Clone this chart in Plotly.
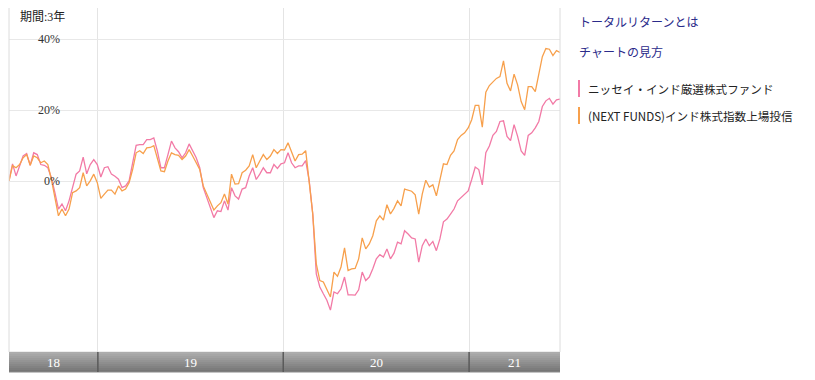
import plotly.graph_objects as go
import pandas as pd

# ---------------- data ----------------
period_label = "期間:3年"
link_labels = ["トータルリターンとは", "チャートの見方"]
fund_a_name = "ニッセイ・インド厳選株式ファンド"
fund_b_name = "(NEXT FUNDS)インド株式指数上場投信"

start_date = "2018-07-10"
end_date = "2021-06-29"
year_starts = ["2019-01-01", "2020-01-01", "2021-01-01"]
year_labels = ["18", "19", "20", "21"]
y_ticks = [0, 20, 40]
y_tick_labels = ["0%", "20%", "40%"]

fund_a = [
    0.3, 5.1, 1.7, 4.5, 7.3, 8.0, 4.7, 8.2, 7.7, 4.9, 4.7, 4.0, 1.2, -3.0, -7.6, -6.2,
    -8.1, -5.3, -1.1, 2.2, 3.1, 7.0, 2.3, 4.9, 6.3, 4.9, 1.4, 4.0, 4.3, 2.2, 1.6, 0.8,
    -1.6, -1.1, 0.3, 5.9, 10.3,
    10.5, 10.5, 11.9, 11.9, 12.4, 8.7, 4.0, 4.0, 7.7, 11.5, 9.6, 8.5, 6.8, 8.2, 10.7, 8.7,
    6.8, 4.0, -1.6, -4.4, -7.2, -10.0, -8.1, -8.3, -5.3, -7.9, -1.6, -3.9, -4.8, -2.0, -1.6,
    1.7, 4.0, 0.7, 2.2, 4.0, 2.6, 2.6, 4.9, 3.8, 5.1,
    5.4, 8.2, 5.4, 4.0, 4.5, 4.5, 6.0, 0.3, -9.0, -25.8, -29.5, -31.4, -33.2, -36.0, -30.9,
    -31.4, -30.0, -26.7, -31.7, -31.7, -31.8, -30.3, -25.3, -27.7, -26.7, -24.4, -21.6, -20.4,
    -21.1, -18.8, -21.6, -20.0, -16.9, -17.4, -13.7, -14.6, -15.7, -16.0, -22.5,
    -17.9, -16.0, -17.9, -16.7, -19.3, -16.0, -11.2, -10.4, -9.0, -7.6, -5.3, -4.4, -3.6, -2.5,
    0.7, 4.2, 3.5, -0.8, 8.2, 10.1, 13.1, 14.2, 17.0, 17.2, 12.8, 11.6, 16.1, 12.8, 8.7, 7.5,
    13.1, 13.8, 15.2, 17.0, 21.2, 22.8, 23.5, 21.9, 23.1, 23.3,
]

fund_b = [
    0.3, 4.6, 4.0, 4.9, 6.8, 7.7, 4.7, 7.3, 6.8, 5.4, 5.9, 4.9, 0.7, -4.4, -9.5, -7.6,
    -9.5, -7.6, -3.0, -2.5, -1.6, 2.6, -1.1, 0.3, 2.2, -0.2, -4.6, -3.4, -2.3, -2.3, -3.4, -1.1,
    -2.5, -2.0, -0.2, 3.5, 8.2,
    8.8, 8.0, 9.6, 9.7, 10.2, 6.8, 3.1, 2.9, 5.9, 8.2, 7.7, 7.5, 6.3, 7.3, 9.1, 7.3,
    5.4, 3.5, -1.1, -3.4, -5.8, -7.9, -6.7, -5.8, -3.4, -6.2, 2.2, -0.6, -0.5, 2.6, 3.3,
    4.5, 7.7, 4.0, 5.9, 7.7, 6.3, 7.3, 9.1, 8.0, 9.1,
    9.0, 11.0, 8.2, 5.9, 7.7, 7.8, 8.8, 0.7, -9.0, -23.0, -27.7, -28.1, -30.0, -32.3, -25.3,
    -26.5, -23.9, -18.5, -24.9, -24.4, -24.3, -21.6, -15.7, -18.8, -17.4, -15.1, -10.9, -9.5,
    -10.7, -6.4, -9.0, -7.4, -5.3, -6.7, -2.0, -2.3, -2.6, -3.6, -9.0,
    -3.4, 0.5, -1.4, -0.8, -3.9, 0.5, 5.1, 4.9, 7.5, 8.7, 11.9, 13.1, 13.8, 15.2,
    17.5, 21.5, 21.5, 15.4, 25.2, 27.1, 28.0, 29.1, 29.6, 34.0, 27.7, 25.6, 30.3, 27.3, 22.6, 20.3,
    26.8, 26.8, 25.4, 30.1, 35.2, 37.5, 37.3, 35.5, 36.9, 36.4,
]

# ---------------- styles ----------------
PAGE_OFF = 8          # default body margin of the html page
W, H = 815 - PAGE_OFF, 380 - PAGE_OFF
PINK = "#f27aa6"
ORANGE = "#f7a04c"
LINK = "#2b2b8a"
SERIF = "Liberation Serif, Times New Roman, Noto Sans CJK JP, serif"
SANS = "Noto Sans CJK JP, Noto Sans, sans-serif"

def px_x(p):
    return (p - PAGE_OFF) / W

def px_y(p):
    return 1 - (p - PAGE_OFF) / H

plot_l, plot_r, plot_t, plot_b = 9, 560, 6, 352
band_b = 372
zero_px, px_per_pct = 181, 3.58

dates = pd.date_range(start=start_date, end=end_date, periods=len(fund_a))

fig = go.Figure()
fig.add_trace(go.Scatter(x=dates, y=fund_a, mode="lines", name=fund_a_name,
                         line=dict(color=PINK, width=1.3), hoverinfo="skip"))
fig.add_trace(go.Scatter(x=dates, y=fund_b, mode="lines", name=fund_b_name,
                         line=dict(color=ORANGE, width=1.3), hoverinfo="skip"))

y_lo = -(plot_b - zero_px) / px_per_pct
y_hi = (zero_px - plot_t) / px_per_pct

fig.update_layout(
    width=W, height=H,
    margin=dict(l=0, r=0, t=0, b=0),
    paper_bgcolor="white", plot_bgcolor="white",
    showlegend=False,
    xaxis=dict(domain=[max(px_x(plot_l), 0), px_x(plot_r)], range=[start_date, end_date],
               tickvals=year_starts, showticklabels=False, showgrid=True,
               gridcolor="#e4e4e4", gridwidth=1, zeroline=False, showline=False,
               ticks=""),
    yaxis=dict(domain=[px_y(plot_b), min(px_y(plot_t), 1)], range=[y_lo, y_hi],
               tickvals=y_ticks, showticklabels=False, showgrid=True,
               gridcolor="#e8e8e8", gridwidth=1, zeroline=False, showline=False,
               ticks=""),
)

shapes = []
# plot border
shapes.append(dict(type="rect", xref="paper", yref="paper",
                   x0=px_x(plot_l), x1=px_x(plot_r), y0=px_y(plot_b), y1=px_y(plot_t),
                   line=dict(color="#dcdcdc", width=1), fillcolor="rgba(0,0,0,0)", layer="above"))
# gradient band
n_strips = 10
for i in range(n_strips):
    t = i / (n_strips - 1)
    g = int(round(172 - t * (172 - 118)))
    y0 = plot_b + (band_b - plot_b) * i / n_strips
    y1 = plot_b + (band_b - plot_b) * (i + 1) / n_strips
    shapes.append(dict(type="rect", xref="paper", yref="paper",
                       x0=px_x(plot_l), x1=px_x(plot_r), y0=px_y(y1), y1=px_y(y0),
                       line=dict(width=0), fillcolor=f"rgb({g},{g},{g})", layer="above"))
shapes.append(dict(type="line", xref="paper", yref="paper",
                   x0=px_x(plot_l), x1=px_x(plot_r), y0=px_y(band_b), y1=px_y(band_b),
                   line=dict(color="#8a8a8a", width=1), layer="above"))
for ys in year_starts:
    shapes.append(dict(type="line", xref="x", yref="paper",
                       x0=ys, x1=ys, y0=px_y(band_b), y1=px_y(plot_b),
                       line=dict(color="#5a5a5a", width=1.5), layer="above"))
# legend colour bars
shapes.append(dict(type="rect", xref="paper", yref="paper",
                   x0=px_x(578), x1=px_x(580), y0=px_y(97), y1=px_y(80),
                   line=dict(width=0), fillcolor=PINK))
shapes.append(dict(type="rect", xref="paper", yref="paper",
                   x0=px_x(578), x1=px_x(580), y0=px_y(124), y1=px_y(107),
                   line=dict(width=0), fillcolor=ORANGE))
fig.update_layout(shapes=shapes)

ann = []
# period label
ann.append(dict(text=period_label, xref="paper", yref="paper", x=px_x(18), y=px_y(17),
                xanchor="left", yanchor="middle", showarrow=False,
                font=dict(family=SERIF, size=12, color="#222")))
# y tick labels
for v, lab in zip(y_ticks, y_tick_labels):
    ann.append(dict(text=lab, xref="paper", yref="y", x=px_x(61.5), y=v + 0.3,
                    xanchor="right", yanchor="middle", showarrow=False,
                    font=dict(family=SERIF, size=12, color="#333")))
# year labels in band, centred in each segment
bounds = [pd.Timestamp(start_date)] + [pd.Timestamp(d) for d in year_starts] + [pd.Timestamp(end_date)]
for i, lab in enumerate(year_labels):
    mid = bounds[i] + (bounds[i + 1] - bounds[i]) / 2
    ann.append(dict(text=lab, xref="x", yref="paper", x=mid, y=px_y((plot_b + band_b) / 2 + 0.5),
                    xanchor="center", yanchor="middle", showarrow=False,
                    font=dict(family=SERIF, size=13, color="white")))
# links
ann.append(dict(text=link_labels[0], xref="paper", yref="paper", x=px_x(577), y=px_y(22),
                xanchor="left", yanchor="middle", showarrow=False,
                font=dict(family=SANS, size=12, color=LINK)))
ann.append(dict(text=link_labels[1], xref="paper", yref="paper", x=px_x(577), y=px_y(51),
                xanchor="left", yanchor="middle", showarrow=False,
                font=dict(family=SANS, size=12, color=LINK)))
# legend texts
ann.append(dict(text=fund_a_name, xref="paper", yref="paper", x=px_x(586), y=px_y(88.5),
                xanchor="left", yanchor="middle", showarrow=False,
                font=dict(family=SANS, size=11.6, color="#222")))
ann.append(dict(text=fund_b_name, xref="paper", yref="paper", x=px_x(586), y=px_y(115.5),
                xanchor="left", yanchor="middle", showarrow=False,
                font=dict(family=SANS, size=11.6, color="#222")))
fig.update_layout(annotations=ann)

fig.write_html("out.html")
